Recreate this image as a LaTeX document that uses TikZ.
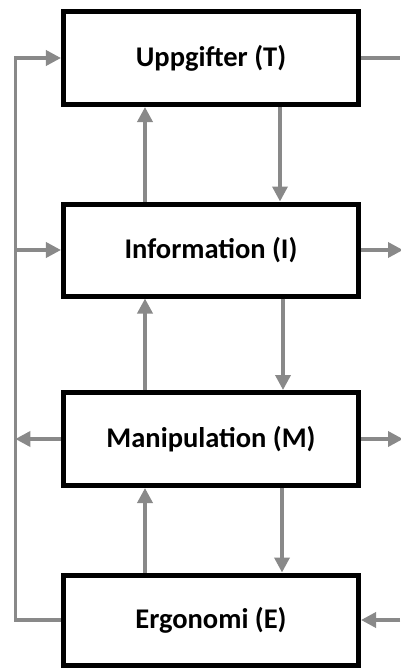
\documentclass[tikz,border=0pt]{standalone}
\usepackage{fontspec}
\setmainfont{Carlito}
\usetikzlibrary{arrows.meta}
\definecolor{conngray}{RGB}{137,137,137}
\tikzset{
  blk/.style={draw=black, line width=5bp, fill=white, minimum width=295bp,
    font=\fontsize{28.5bp}{32bp}\selectfont\bfseries, inner sep=0pt},
  conn/.style={draw=conngray, line width=3.5bp},
  arr/.style={conn, -{Triangle[length=15bp,width=15bp]}},
}
\begin{document}
\begin{tikzpicture}[x=1bp,y=-1bp]
\useasboundingbox (0,0) rectangle (400,668);
% boxes
\node[blk, minimum height=93bp] (T) at (211,58) {Uppgifter (T)};
\node[blk, minimum height=92bp] (I) at (211,250) {Information (I)};
\node[blk, minimum height=93bp] (M) at (211,439) {Manipulation (M)};
\node[blk, minimum height=90bp] (E) at (211,620) {Ergonomi (E)};
% helper coordinates
\coordinate (L) at (15.3,0);
\coordinate (R) at (403,0);
\coordinate (Rin) at (400,0);
\coordinate (xu) at (145,0);
\coordinate (xd1) at (280,0);
\coordinate (xd2) at (283,0);
\coordinate (xd3) at (282,0);
% left feedback loop
\draw[arr] (E.west) -- (E.west -| L) -- (T.west -| L) -- (T.west);
\draw[arr] (I.west -| L) -- (I.west);
\draw[arr] (M.west) -- (M.west -| L);
% right side
\draw[conn] (T.east) -- (T.east -| Rin);
\draw[arr] (I.east) -- (I.east -| R);
\draw[arr] (M.east) -- (M.east -| R);
\draw[arr] (E.east -| Rin) -- (E.east);
% vertical arrows
\draw[arr] (I.north -| xu) -- (T.south -| xu);
\draw[arr] (T.south -| xd1) -- (I.north -| xd1);
\draw[arr] (M.north -| xu) -- (I.south -| xu);
\draw[arr] (I.south -| xd2) -- (M.north -| xd2);
\draw[arr] (E.north -| xu) -- (M.south -| xu);
\draw[arr] (M.south -| xd3) -- (E.north -| xd3);
\end{tikzpicture}
\end{document}
